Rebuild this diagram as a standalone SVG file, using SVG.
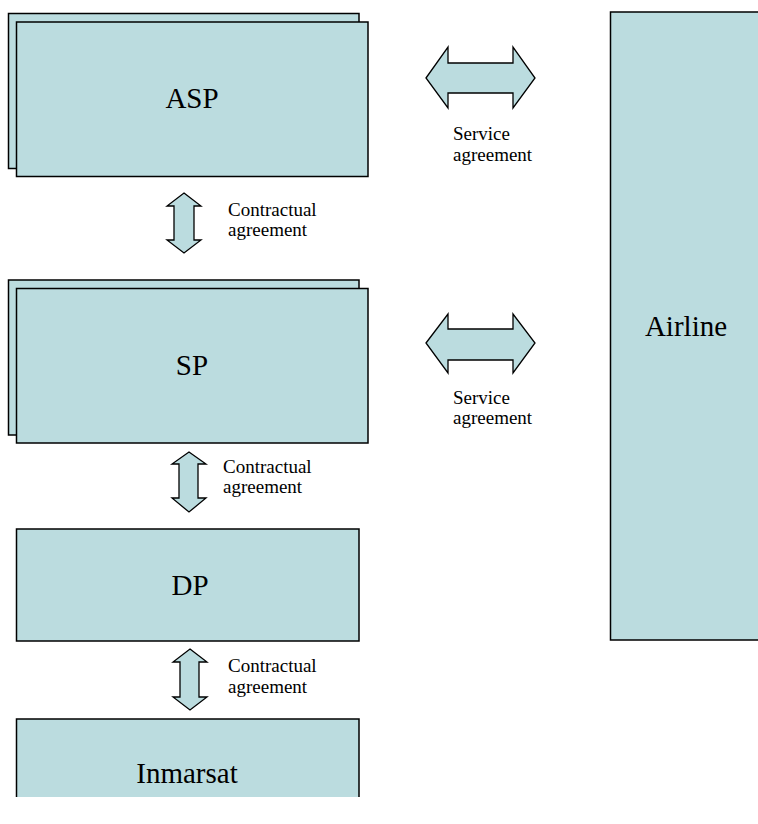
<svg xmlns="http://www.w3.org/2000/svg" width="758" height="824" viewBox="0 0 758 824">
<style>
.box{fill:#BBDCDF;stroke:#000;stroke-width:1.5}
.arr{fill:#BBDCDF;stroke:#000;stroke-width:1.3;stroke-linejoin:miter}
.big{font-family:"Liberation Serif",serif;font-size:29px;fill:#000;text-anchor:middle}
.small{font-family:"Liberation Serif",serif;font-size:19px;fill:#000}
</style>
<rect width="758" height="824" fill="#fff"/>
<g id="asp">
<rect class="box" x="8.5" y="13.5" width="350.5" height="155"/>
<rect class="box" x="16.5" y="22" width="351.5" height="154.5"/>
<text class="big" x="192" y="108">ASP</text>
</g>
<g id="sp">
<rect class="box" x="8.5" y="280" width="350.5" height="155"/>
<rect class="box" x="16.5" y="288.5" width="351.5" height="154.5"/>
<text class="big" x="192" y="375">SP</text>
</g>
<g id="dp">
<rect class="box" x="16.5" y="529" width="342.5" height="112"/>
<text class="big" x="190" y="595">DP</text>
</g>
<g id="inmarsat">
<rect x="16.5" y="719" width="342.5" height="78" fill="#BBDCDF"/>
<path d="M16.5,797 V719 H359 V797" fill="none" stroke="#000" stroke-width="1.5"/>
<text class="big" x="187" y="783">Inmarsat</text>
</g>
<g id="airline">
<rect class="box" x="610.5" y="12" width="160" height="628"/>
<text class="big" x="686" y="336">Airline</text>
</g>
<g id="connectors">
<polygon class="arr" points="426,78 448,47 448,63 513,63 513,47 535,78 513,108 513,93 448,93 448,108"/>
<polygon class="arr" points="426,343 448,314 448,329 513,329 513,314 535,343 513,373 513,360 448,360 448,373"/>
<polygon class="arr" points="184,193 201,206 194,206 194,240 201,240 184,253 167,240 174,240 174,206 167,206"/>
<polygon class="arr" points="189,452 206,464 198,464 198,498 206,498 189,512 172,498 179,498 179,464 172,464"/>
<polygon class="arr" points="190,649 207,662 199,662 199,697 207,697 190,710 173,697 180,697 180,662 173,662"/>
<text class="small" x="453" y="140">Service</text>
<text class="small" x="453" y="161">agreement</text>
<text class="small" x="453" y="404">Service</text>
<text class="small" x="453" y="424">agreement</text>
<text class="small" x="228" y="216">Contractual</text>
<text class="small" x="228" y="236">agreement</text>
<text class="small" x="223" y="473">Contractual</text>
<text class="small" x="223" y="493">agreement</text>
<text class="small" x="228" y="672">Contractual</text>
<text class="small" x="228" y="693">agreement</text>
</g>
</svg>
